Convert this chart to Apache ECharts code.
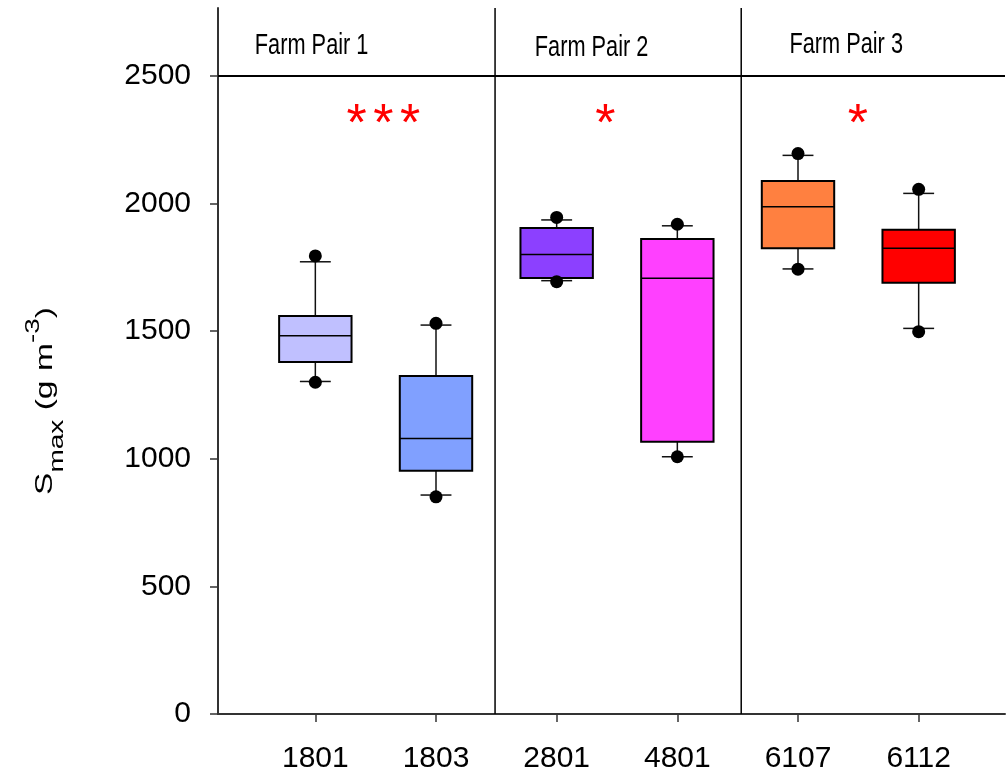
<!DOCTYPE html>
<html><head><meta charset="utf-8">
<script src="https://cdn.jsdelivr.net/npm/echarts@6/dist/echarts.min.js"></script>
<style>html,body{margin:0;padding:0;background:#fff}#c{width:1007px;height:774px}</style>
</head><body><div id="c"></div>
<script>
// ---- data ----
const categories = ['1801', '1803', '2801', '4801', '6107', '6112'];
const whiskerLow  = [1303,  858, 1698, 1008, 1744, 1511];
const q1          = [1379,  953, 1708, 1067, 1825, 1690];
const median      = [1482, 1080, 1801, 1707, 1988, 1825];
const q3          = [1560, 1324, 1904, 1861, 2089, 1898];
const whiskerHigh = [1772, 1524, 1936, 1913, 2189, 2040];
const outlierLow  = [1300,  851, 1694, 1008, 1743, 1498];
const outlierHigh = [1795, 1531, 1946, 1919, 2196, 2056];
const boxColors = ['#c0c0ff', '#80a0ff', '#8c40ff', '#ff40ff', '#ff8040', '#ff0000'];
const yMin = 0, yMax = 2500, yInterval = 500;
const groupLabels = ['Farm Pair 1', 'Farm Pair 2', 'Farm Pair 3'];
const groupLabelX = [-0.03, 2.29, 4.40];
const groupLabelY = [2616, 2610, 2621];
const sigStars = [3, 1, 1];
const sigX = [0.564, 2.405, 4.497];
const sigY = [2305, 2305, 2305];
const groupDividers = [1.49, 3.53];

const FONT = '"Liberation Sans", Arial, sans-serif';
const chart = echarts.init(document.getElementById('c'), null, {renderer: 'canvas'});

const frameYMax = yMax * 706 / 638;

const option = {
  animation: false,
  backgroundColor: '#fff',
  grid: [
    {left: 218, right: 2, top: 8, bottom: 60},
    {left: 255, right: 28, top: 76, bottom: 60}
  ],
  xAxis: [
    {gridIndex: 0, type: 'value', min: -0.806, max: 5.716,
     axisLine: {show: true, onZero: false, lineStyle: {color: '#333', width: 2}},
     axisTick: {show: false}, axisLabel: {show: false}, splitLine: {show: false}},
    {gridIndex: 1, type: 'category', data: categories, boundaryGap: true,
     axisLine: {show: false, onZero: false},
     axisTick: {show: true, alignWithLabel: true, length: 8, lineStyle: {color: '#333', width: 1.5}},
     axisLabel: {fontSize: 30, color: '#000', margin: 30, fontFamily: FONT},
     splitLine: {show: false}}
  ],
  yAxis: [
    {gridIndex: 0, type: 'value', min: 0, max: frameYMax,
     axisLine: {show: true, onZero: false, lineStyle: {color: '#333', width: 2}},
     axisTick: {show: false}, axisLabel: {show: false}, splitLine: {show: false}},
    {gridIndex: 1, type: 'value', min: yMin, max: yMax, interval: yInterval, offset: 37,
     axisLine: {show: false, onZero: false},
     axisTick: {show: true, length: 8, lineStyle: {color: '#333', width: 1.5}},
     axisLabel: {fontSize: 30, color: '#000', margin: 27, fontFamily: FONT,
                 formatter: v => String(v)},
     splitLine: {show: false}}
  ],
  graphic: [{
    type: 'text', x: 45, y: 401, rotation: Math.PI / 2, scaleX: 1.4,
    style: {
      text: '{m|S}{sub|max}{m| (g m}{sup|-3}{m|)}',
      align: 'center', verticalAlign: 'middle',
      rich: {
        m: {fontSize: 24, fontFamily: FONT, fill: '#000', lineHeight: 44, verticalAlign: 'middle'},
        sub: {fontSize: 20, fontFamily: FONT, fill: '#000', lineHeight: 20, verticalAlign: 'bottom'},
        sup: {fontSize: 20, fontFamily: FONT, fill: '#000', lineHeight: 20, verticalAlign: 'top'}
      }
    }
  }],
  series: [
    { // group dividers
      type: 'custom', xAxisIndex: 0, yAxisIndex: 0, silent: true,
      data: groupDividers.map(v => [v, 0]),
      encode: {x: 0, y: 1},
      renderItem(params, api) {
        const cs = params.coordSys;
        const p = api.coord([api.value(0), 0]);
        return {type: 'line', shape: {x1: p[0], y1: cs.y, x2: p[0], y2: cs.y + cs.height},
                style: {stroke: '#000', lineWidth: 1.5}};
      }
    },
    { // header separator line at top of value range
      type: 'custom', xAxisIndex: 0, yAxisIndex: 0, silent: true,
      data: [[0, yMax]],
      encode: {x: 0, y: 1},
      renderItem(params, api) {
        const cs = params.coordSys;
        const p = api.coord([0, api.value(1)]);
        return {type: 'line', shape: {x1: cs.x, y1: p[1], x2: cs.x + cs.width, y2: p[1]},
                style: {stroke: '#000', lineWidth: 2}};
      }
    },
    { // group labels
      type: 'custom', xAxisIndex: 0, yAxisIndex: 0, silent: true,
      data: groupLabels.map((t, i) => [groupLabelX[i], groupLabelY[i]]),
      encode: {x: 0, y: 1},
      renderItem(params, api) {
        const p = api.coord([api.value(0), api.value(1)]);
        return {type: 'text', x: p[0], y: p[1], scaleX: 0.75,
                style: {text: groupLabels[params.dataIndex], fontSize: 29, fontFamily: FONT,
                        fill: '#000', align: 'center', verticalAlign: 'middle'}};
      }
    },
    { // significance marks
      type: 'custom', xAxisIndex: 0, yAxisIndex: 0, silent: true,
      data: sigStars.map((n, i) => [sigX[i], sigY[i], n]),
      encode: {x: 0, y: 1},
      renderItem(params, api) {
        const p = api.coord([api.value(0), api.value(1)]);
        const n = api.value(2), gap = 26.7;
        const children = [];
        for (let k = 0; k < n; k++) {
          children.push({type: 'text', x: p[0] + (k - (n - 1) / 2) * gap, y: p[1],
            style: {text: '*', fontSize: 52, fontFamily: FONT, fill: '#ff0000',
                    align: 'center', verticalAlign: 'middle'}});
        }
        return {type: 'group', children};
      }
    },
    { // boxes
      type: 'custom', xAxisIndex: 1, yAxisIndex: 1,
      data: categories.map((c, i) => [i, whiskerLow[i], q1[i], median[i], q3[i], whiskerHigh[i], outlierLow[i], outlierHigh[i]]),
      encode: {x: 0, y: [1, 2, 3, 4, 5, 6, 7]},
      renderItem(params, api) {
        const i = params.dataIndex;
        const bw = api.size([1, 0])[0];
        const half = bw * 0.3, capHalf = bw * 0.128;
        const Y = k => api.coord([api.value(0), api.value(k)])[1];
        const cx = api.coord([api.value(0), api.value(3)])[0];
        const yWL = Y(1), yQ1 = Y(2), yMed = Y(3), yQ3 = Y(4), yWH = Y(5), yOL = Y(6), yOH = Y(7);
        const ls = {stroke: '#111', lineWidth: 1.5};
        return {type: 'group', children: [
          {type: 'line', shape: {x1: cx, y1: yQ3, x2: cx, y2: yWH}, style: ls},
          {type: 'line', shape: {x1: cx, y1: yQ1, x2: cx, y2: yWL}, style: ls},
          {type: 'line', shape: {x1: cx - capHalf, y1: yWH, x2: cx + capHalf, y2: yWH}, style: ls},
          {type: 'line', shape: {x1: cx - capHalf, y1: yWL, x2: cx + capHalf, y2: yWL}, style: ls},
          {type: 'rect', shape: {x: cx - half, y: yQ3, width: 2 * half, height: yQ1 - yQ3},
           style: {fill: boxColors[i], stroke: '#000', lineWidth: 2}},
          {type: 'line', shape: {x1: cx - half, y1: yMed, x2: cx + half, y2: yMed},
           style: {stroke: '#000', lineWidth: 1.5}},
          {type: 'circle', shape: {cx: cx, cy: yOL, r: 6.5}, style: {fill: '#000'}},
          {type: 'circle', shape: {cx: cx, cy: yOH, r: 6.5}, style: {fill: '#000'}}
        ]};
      }
    }
  ]
};
chart.setOption(option);
</script>
</body></html>
